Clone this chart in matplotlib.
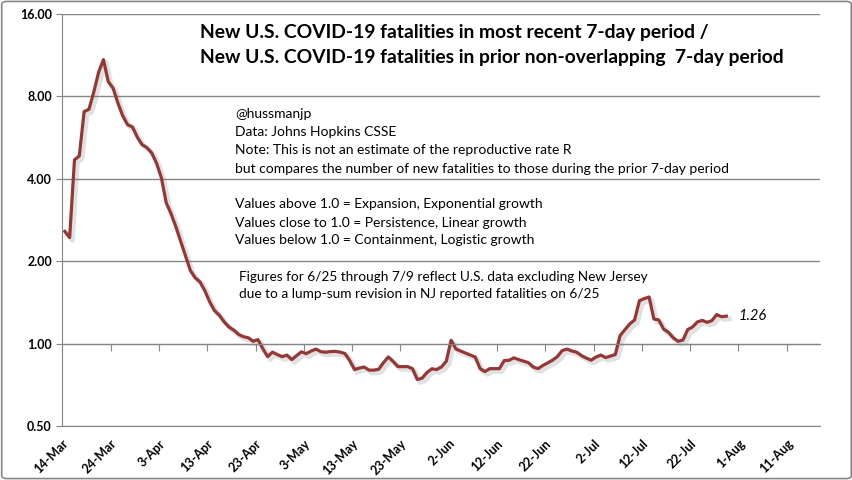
import matplotlib
matplotlib.use("Agg")
import matplotlib.pyplot as plt
import matplotlib.patheffects as pe
import matplotlib.ticker as mticker
from matplotlib.patches import FancyBboxPatch
import numpy as np
import pandas as pd

plt.rcParams["font.family"] = ["Lato", "DejaVu Sans"]

# daily ratio, 14-Mar-2020 .. 29-Jul-2020
start_date = "2020-03-14"
ratio = [
    2.57, 2.44, 4.69, 4.85, 7.04, 7.18, 8.3, 9.8, 10.9, 9.06,
    8.57, 7.56, 6.79, 6.30, 6.19, 5.68, 5.33, 5.20, 4.97, 4.56,
    4.03, 3.27, 2.98, 2.67, 2.36, 2.09, 1.85, 1.74, 1.68, 1.56,
    1.42, 1.32, 1.27, 1.20, 1.15, 1.12, 1.08, 1.06, 1.05, 1.02,
    1.034, 0.958, 0.896, 0.931, 0.912, 0.896, 0.908, 0.874, 0.904, 0.933,
    0.919, 0.939, 0.955, 0.935, 0.93, 0.935, 0.937, 0.931, 0.92, 0.867,
    0.804, 0.814, 0.821, 0.80, 0.80, 0.806, 0.852, 0.894, 0.86, 0.824,
    0.824, 0.824, 0.81, 0.739, 0.748, 0.784, 0.809, 0.804, 0.822, 0.862,
    1.028, 0.955, 0.939, 0.923, 0.908, 0.893, 0.81, 0.79, 0.81, 0.81,
    0.81, 0.867, 0.869, 0.887, 0.874, 0.863, 0.852, 0.821, 0.81, 0.832,
    0.85, 0.87, 0.896, 0.943, 0.955, 0.94, 0.93, 0.904, 0.885, 0.87,
    0.893, 0.908, 0.889, 0.90, 0.912, 1.07, 1.125, 1.18, 1.22, 1.435,
    1.46, 1.48, 1.23, 1.22, 1.13, 1.10, 1.05, 1.02, 1.03, 1.125,
    1.15, 1.20, 1.216, 1.196, 1.213, 1.276, 1.254, 1.26,
]
y_ticks = [0.5, 1.0, 2.0, 4.0, 8.0, 16.0]
x_tick_labels = ["14-Mar", "24-Mar", "3-Apr", "13-Apr", "23-Apr", "3-May", "13-May",
                 "23-May", "2-Jun", "12-Jun", "22-Jun", "2-Jul", "12-Jul", "22-Jul",
                 "1-Aug", "11-Aug"]
x_end = "2020-08-18"
last_label = "1.26"

title_lines = [
    "New U.S. COVID-19 fatalities in most recent 7-day period /",
    "New U.S. COVID-19 fatalities in prior non-overlapping  7-day period",
]
note_lines = [
    "@hussmanjp",
    "Data: Johns Hopkins CSSE",
    "Note: This is not an estimate of the reproductive rate R",
    "but compares the number of new fatalities to those during the prior 7-day period",
]
rule_lines = [
    "Values above 1.0 = Expansion, Exponential growth",
    "Values close to 1.0 = Persistence, Linear growth",
    "Values below 1.0 = Containment, Logistic growth",
]
nj_lines = [
    "Figures for 6/25 through 7/9 reflect U.S. data excluding New Jersey",
    "due to a lump-sum revision in NJ reported fatalities on 6/25",
]

W, H = 853, 480
dates = pd.date_range(start_date, periods=len(ratio), freq="D") + pd.Timedelta(hours=12)
tick_dates = pd.date_range(start_date, periods=len(x_tick_labels), freq="10D")

fig = plt.figure(figsize=(W / 100, H / 100), dpi=100)
ax = fig.add_axes([62.4 / W, 1 - 426 / H, (820.5 - 62.4) / W, (426 - 14) / H])

grid_c = "#868686"
ax.set_yscale("log", base=2)
ax.set_ylim(0.5, 16)
ax.set_xlim(pd.Timestamp(start_date), pd.Timestamp(x_end))
ax.set_yticks(y_ticks)
ax.yaxis.set_major_formatter(mticker.FuncFormatter(lambda v, p: f"{v:.2f}"))
ax.yaxis.set_minor_locator(mticker.NullLocator())
ax.grid(axis="y", color=grid_c, lw=1.0)
ax.set_axisbelow(True)

for s in ["top", "right"]:
    ax.spines[s].set_visible(False)
ax.spines["left"].set_color(grid_c)
ax.spines["bottom"].set_color(grid_c)
ax.spines["bottom"].set_position(("data", 1.0))
ax.tick_params(axis="y", colors=grid_c, length=4, labelcolor="black", labelsize=9)
for t in ax.get_yticklabels():
    t.set_fontweight("bold")

ax.set_xticks(tick_dates)
ax.set_xticklabels([])
ax.tick_params(axis="x", colors=grid_c, length=5, direction="out")

sec = ax.secondary_xaxis(0.0)
sec.set_xticks(tick_dates)
sec.set_xticklabels(x_tick_labels, rotation=45, ha="right", va="top",
                    rotation_mode="anchor", fontsize=9, fontweight="bold")
sec.tick_params(axis="x", length=0, pad=8)
sec.spines["bottom"].set_color(grid_c)

ax.plot(dates, ratio, color="#953735", lw=2.3, solid_joinstyle="round",
        path_effects=[pe.SimpleLineShadow(offset=(2, -2), shadow_color="#777777",
                                          alpha=0.22, linewidth=3.5),
                      pe.Normal()])

ax.text(dates[-1] + pd.Timedelta(days=2.5), ratio[-1], last_label, fontsize=10.5,
        style="italic", va="center", ha="left")


def px(x, y):
    return x / W, 1 - y / H


for i, line in enumerate(title_lines):
    fig.text(*px(200, 38 + 24.5 * i), line, fontsize=13.9, fontweight="bold", va="baseline")
for i, line in enumerate(note_lines):
    fig.text(*px(235, 118 + 18.2 * i), line, fontsize=10, va="baseline")
for i, line in enumerate(rule_lines):
    fig.text(*px(235, 208.5 + 18 * i), line, fontsize=10, va="baseline")
for i, line in enumerate(nj_lines):
    fig.text(*px(239, 281 + 17.5 * i), line, fontsize=9.8, va="baseline")

fig.patches.append(FancyBboxPatch((0.002, 0.003), 0.996, 0.994,
                                  boxstyle="round,pad=0,rounding_size=0.006",
                                  transform=fig.transFigure, fill=False,
                                  edgecolor=grid_c, lw=1.2))

fig.savefig("out.png", dpi=100)
